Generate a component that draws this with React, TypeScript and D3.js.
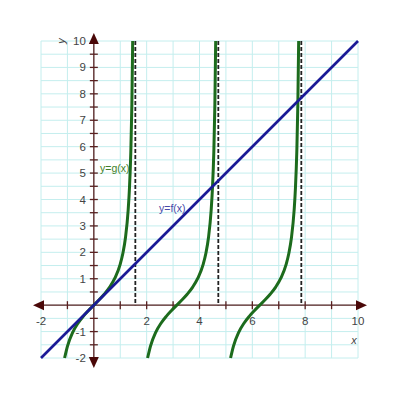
import React from "react";
import * as d3 from "d3";

// y = f(x): straight line
const fPoints: [number, number][] = [[-2, -2], [10, 10]];

// y = g(x): three branches
const gBranch1: [number, number][] = [
  [-1.107, -2], [-1.0, -1.557], [-0.8, -1.03], [-0.6, -0.684], [-0.4, -0.423], [-0.2, -0.203],
  [0, 0], [0.2, 0.203], [0.4, 0.423], [0.6, 0.684], [0.8, 1.03], [1.0, 1.557], [1.1, 1.965],
  [1.2, 2.572], [1.3, 3.602], [1.35, 4.455], [1.4, 5.798], [1.44, 7.6], [1.471, 10],
];
const gBranch2: [number, number][] = [
  [2.035, -2], [2.142, -1.557], [2.342, -1.03], [2.542, -0.684], [2.742, -0.423], [2.942, -0.203],
  [3.142, 0], [3.342, 0.203], [3.542, 0.423], [3.742, 0.684], [3.942, 1.03], [4.142, 1.557], [4.242, 1.965],
  [4.342, 2.572], [4.442, 3.602], [4.492, 4.455], [4.542, 5.798], [4.582, 7.6], [4.613, 10],
];
const gBranch3: [number, number][] = [
  [5.176, -2], [5.283, -1.557], [5.483, -1.03], [5.683, -0.684], [5.883, -0.423], [6.083, -0.203],
  [6.283, 0], [6.483, 0.203], [6.683, 0.423], [6.883, 0.684], [7.083, 1.03], [7.283, 1.557], [7.383, 1.965],
  [7.483, 2.572], [7.583, 3.602], [7.633, 4.455], [7.683, 5.798], [7.723, 7.6], [7.754, 10],
];
const gBranches = [gBranch1, gBranch2, gBranch3];
const asymptotes = [1.571, 4.712, 7.854];

const xGrid = [-2, -1, 0, 1, 2, 3, 4, 5, 6, 7, 8, 9, 10];
const yGrid = [-2, -1.5, -1, -0.5, 0, 0.5, 1, 1.5, 2, 2.5, 3, 3.5, 4, 4.5, 5, 5.5, 6, 6.5, 7, 7.5, 8, 8.5, 9, 9.5, 10];
const xTickLabels = [-2, 2, 4, 6, 8, 10];
const yTickLabels = [-2, -1, 1, 2, 3, 4, 5, 6, 7, 8, 9, 10];

export default function App() {
  const x = d3.scaleLinear().domain([-2, 10]).range([41, 358]);
  const y = d3.scaleLinear().domain([-2, 10]).range([358, 41]);
  const line = d3.line<[number, number]>().x((d) => x(d[0])).y((d) => y(d[1])).curve(d3.curveMonotoneX);
  const axisColor = "#5a2020";
  const arrowColor = "#4a0808";
  const labelColor = "#444";
  const font = "Arial, Liberation Sans, sans-serif";
  const x0 = x(0);
  const y0 = y(0);
  return (
    <svg width={400} height={400} style={{ position: "absolute", left: 0, top: 0 }}>
      <rect width={400} height={400} fill="#fff" />
      {xGrid.map((v) => (
        <line key={"gx" + v} x1={x(v)} x2={x(v)} y1={y(-2)} y2={y(10)} stroke="#c4eeee" strokeWidth={1} />
      ))}
      {yGrid.map((v) => (
        <line key={"gy" + v} x1={x(-2)} x2={x(10)} y1={y(v)} y2={y(v)} stroke="#c4eeee" strokeWidth={1} />
      ))}
      {/* axes */}
      <line x1={x(-2) - 2} x2={x(10) + 2} y1={y0} y2={y0} stroke={axisColor} strokeWidth={1.3} />
      <line x1={x0} x2={x0} y1={y(10) - 2} y2={y(-2) + 2} stroke={axisColor} strokeWidth={1.3} />
      {xGrid.filter((v) => v !== 0 && v !== -2 && v !== 10).map((v) => (
        <line key={"tx" + v} x1={x(v)} x2={x(v)} y1={y0 - 4} y2={y0 + 4} stroke={axisColor} strokeWidth={1.3} />
      ))}
      {yGrid.filter((v) => v !== 0 && v !== -2 && v !== 10).map((v) => (
        <line key={"ty" + v} x1={x0 - 4} x2={x0 + 4} y1={y(v)} y2={y(v)} stroke={axisColor} strokeWidth={1.3} />
      ))}
      {/* arrowheads */}
      <path d={`M${x(-2) - 8},${y0} L${x(-2) + 3},${y0 - 5} L${x(-2) + 3},${y0 + 5} Z`} fill={arrowColor} />
      <path d={`M${x(10) + 9},${y0} L${x(10) - 2},${y0 - 5} L${x(10) - 2},${y0 + 5} Z`} fill={arrowColor} />
      <path d={`M${x0},${y(10) - 8} L${x0 - 5},${y(10) + 3} L${x0 + 5},${y(10) + 3} Z`} fill={arrowColor} />
      <path d={`M${x0},${y(-2) + 10} L${x0 - 5},${y(-2) - 1} L${x0 + 5},${y(-2) - 1} Z`} fill={arrowColor} />
      {/* tick labels */}
      {xTickLabels.map((v) => (
        <text key={"lx" + v} x={x(v)} y={y0 + 20} textAnchor="middle" fontFamily={font} fontSize={11.5} fill={labelColor}>
          {v}
        </text>
      ))}
      {yTickLabels.map((v) => (
        <text key={"ly" + v} x={x0 - 8} y={y(v) + 4} textAnchor="end" fontFamily={font} fontSize={11.5} fill={labelColor}>
          {v}
        </text>
      ))}
      <text x={354} y={344} textAnchor="middle" fontFamily={font} fontSize={11} fontStyle="italic" fill={labelColor}>
        x
      </text>
      <text x={0} y={0} transform={`translate(${62},${41}) rotate(-90)`} textAnchor="middle" dominantBaseline="middle" fontFamily={font} fontSize={11} fontStyle="italic" fill={labelColor}>
        y
      </text>
      {/* function labels */}
      <text x={100} y={172} fontFamily={font} fontSize={10.5} fill="#3f7f2a">
        y=g(x)
      </text>
      <text x={159} y={212} fontFamily={font} fontSize={10.5} fill="#4848a8">
        y=f(x)
      </text>
      {/* asymptotes */}
      {asymptotes.map((a) => (
        <line key={"as" + a} x1={x(a)} x2={x(a)} y1={y(10)} y2={y(0)} stroke="#222" strokeWidth={1.8} strokeDasharray="4,2" />
      ))}
      {/* curves */}
      {gBranches.map((b, i) => (
        <path key={"g" + i} d={line(b) || ""} fill="none" stroke="#1c6b1c" strokeWidth={3} />
      ))}
      <path d={line(fPoints) || ""} fill="none" stroke="#1a1a96" strokeWidth={2.6} />
    </svg>
  );
}
